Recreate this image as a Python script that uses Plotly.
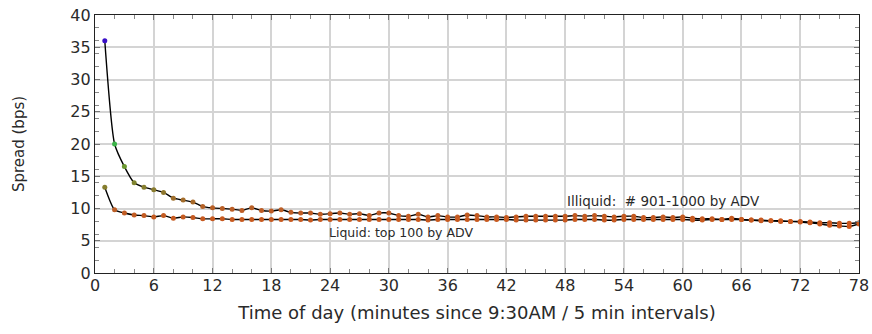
import plotly.graph_objects as go

x_vals = list(range(1, 79))

illiquid = [36.0, 20.0, 16.5, 14.0, 13.3, 12.9, 12.5, 11.6, 11.3, 11.0,
            10.3, 10.1, 10.0, 9.9, 9.7, 10.1, 9.7, 9.6, 9.8, 9.4,
            9.3, 9.3, 9.1, 9.2, 9.3, 9.1, 9.2, 8.9, 9.3, 9.3,
            8.9, 8.8, 9.1, 8.7, 8.9, 8.7, 8.7, 9.0, 8.9, 8.7,
            8.7, 8.6, 8.7, 8.8, 8.8, 8.8, 8.8, 8.8, 8.9, 8.8,
            8.9, 8.8, 8.7, 8.8, 8.8, 8.6, 8.6, 8.7, 8.6, 8.7,
            8.5, 8.4, 8.4, 8.3, 8.5, 8.3, 8.2, 8.2, 8.1, 8.1,
            8.0, 8.0, 7.9, 7.8, 7.8, 7.7, 7.7, 7.8]

liquid = [13.3, 9.8, 9.3, 9.0, 8.9, 8.7, 8.9, 8.5, 8.7, 8.6,
          8.4, 8.4, 8.4, 8.3, 8.3, 8.3, 8.3, 8.3, 8.3, 8.3,
          8.3, 8.2, 8.3, 8.3, 8.3, 8.3, 8.3, 8.3, 8.3, 8.3,
          8.3, 8.3, 8.3, 8.2, 8.3, 8.3, 8.3, 8.3, 8.3, 8.3,
          8.3, 8.3, 8.2, 8.2, 8.2, 8.2, 8.2, 8.2, 8.3, 8.3,
          8.3, 8.2, 8.2, 8.3, 8.3, 8.3, 8.3, 8.3, 8.3, 8.3,
          8.2, 8.2, 8.3, 8.3, 8.3, 8.3, 8.2, 8.1, 8.1, 8.0,
          8.0, 7.9, 7.8, 7.6, 7.4, 7.3, 7.2, 7.6]

x_ticks = [0, 6, 12, 18, 24, 30, 36, 42, 48, 54, 60, 66, 72, 78]
y_ticks = [0, 5, 10, 15, 20, 25, 30, 35, 40]

label_illiquid = "Illiquid:  # 901-1000 by ADV"
label_liquid = "Liquid: top 100 by ADV"

colorscale = [
    [0.0, "#d2561a"],
    [0.10, "#bb5e26"],
    [0.20, "#8a7a2e"],
    [0.33, "#6a9a30"],
    [0.45, "#3cb44a"],
    [1.0, "#3a10c8"],
]
cmin, cmax = 7.0, 36.0

FONT = "'DejaVu Sans', sans-serif"
TXT = "#2a2a2a"

fig = go.Figure()
for ys in (illiquid, liquid):
    fig.add_trace(go.Scatter(
        x=x_vals, y=ys, mode="lines",
        line=dict(color="black", width=1.4, shape="spline", smoothing=0.6),
        hoverinfo="skip", showlegend=False))
for ys in (illiquid, liquid):
    fig.add_trace(go.Scatter(
        x=x_vals, y=ys, mode="markers",
        marker=dict(size=5, color=ys, colorscale=colorscale, cmin=cmin, cmax=cmax,
                    line=dict(width=0)),
        showlegend=False))

fig.add_annotation(x=58, y=11.2, text=label_illiquid, showarrow=False,
                   font=dict(size=13.5, color=TXT, family=FONT))
fig.add_annotation(x=31.2, y=6.3, text=label_liquid, showarrow=False,
                   font=dict(size=12.5, color=TXT, family=FONT))

axis_common = dict(
    showline=True, linecolor="#222", linewidth=1.3, mirror="allticks",
    ticks="inside", ticklen=5, tickcolor="#777", tickwidth=1.2,
    showgrid=True, gridcolor="#d4d4d4", gridwidth=1.5,
    zeroline=False, automargin=False,
    tickfont=dict(size=16, color=TXT, family=FONT),
)

fig.update_xaxes(
    range=[0, 78], tickvals=x_ticks, ticklabelstandoff=-2,
    minor=dict(dtick=2, tick0=0, ticks="inside", ticklen=4, tickcolor="#888", showgrid=False),
    title=dict(text="Time of day (minutes since 9:30AM / 5 min intervals)",
               font=dict(size=18, color=TXT, family=FONT), standoff=12),
    **axis_common)
fig.update_yaxes(
    range=[0, 40], tickvals=y_ticks,
    minor=dict(dtick=2, tick0=0, ticks="inside", ticklen=4, tickcolor="#888", showgrid=False),
    title=dict(text="Spread (bps)", font=dict(size=15, color=TXT, family=FONT), standoff=42),
    **axis_common)

fig.update_layout(
    width=872, height=334,
    margin=dict(l=95, r=13, t=15, b=61),
    plot_bgcolor="white", paper_bgcolor="white",
    font=dict(family=FONT),
)

fig.write_html("out.html")
